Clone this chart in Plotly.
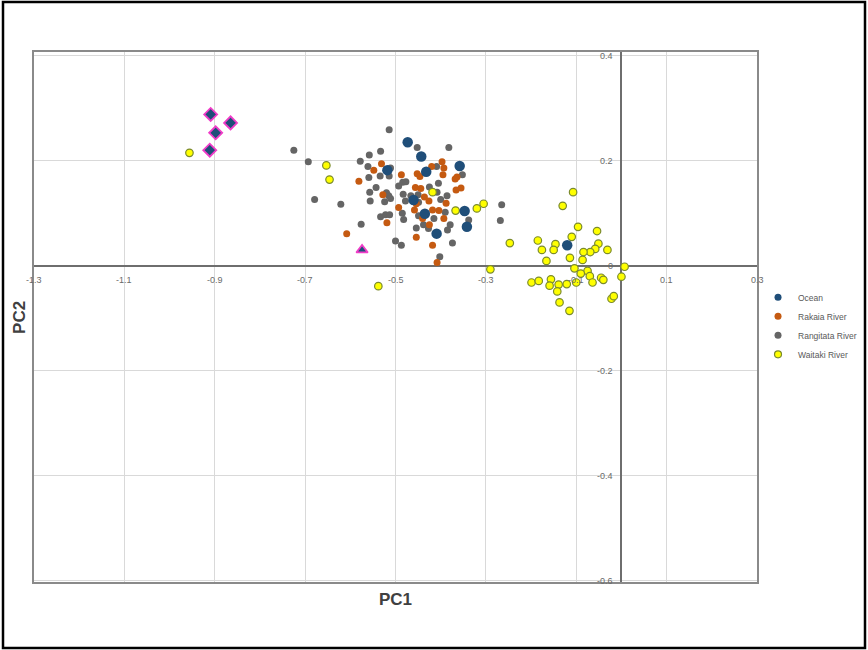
import plotly.graph_objects as go

# ---------------- data ----------------
ocean_x = [-0.473, -0.443, -0.518, -0.432, -0.358, -0.460, -0.435, -0.347, -0.342, -0.409, -0.120]
ocean_y = [0.235, 0.208, 0.182, 0.179, 0.190, 0.125, 0.099, 0.104, 0.074, 0.061, 0.039]

special_diamond_x = [-0.909, -0.865, -0.898, -0.911]
special_diamond_y = [0.288, 0.272, 0.253, 0.220]
special_triangle_x = [-0.574]
special_triangle_y = [0.030]

rakaia_x = [-0.581, -0.608, -0.531, -0.548, -0.487, -0.452, -0.446, -0.528, -0.493, -0.458,
            -0.454, -0.519, -0.454, -0.456, -0.444, -0.397, -0.420, -0.393, -0.395, -0.364,
            -0.368, -0.366, -0.355, -0.436, -0.426, -0.388, -0.418, -0.404, -0.425, -0.393,
            -0.418, -0.408, -0.440]
rakaia_y = [0.161, 0.061, 0.194, 0.182, 0.173, 0.175, 0.170, 0.135, 0.111, 0.106,
            0.118, 0.082, 0.054, 0.149, 0.147, 0.198, 0.189, 0.186, 0.173, 0.169,
            0.165, 0.144, 0.148, 0.131, 0.123, 0.119, 0.106, 0.105, 0.078, 0.090,
            0.039, 0.006, 0.090]

rangitata_x = [-0.725, -0.693, -0.679, -0.621, -0.578, -0.576, -0.514, -0.533, -0.558, -0.561,
               -0.511, -0.514, -0.534, -0.559, -0.452, -0.382, -0.484, -0.477, -0.493, -0.543,
               -0.557, -0.520, -0.515, -0.511, -0.483, -0.466, -0.478, -0.556, -0.524, -0.485,
               -0.533, -0.522, -0.513, -0.482, -0.454, -0.500, -0.487, -0.409, -0.352, -0.405,
               -0.425, -0.450, -0.449, -0.400, -0.386, -0.408, -0.390, -0.449, -0.438, -0.415,
               -0.379, -0.385, -0.427, -0.338, -0.374, -0.402, -0.265, -0.268]
rangitata_y = [0.220, 0.198, 0.126, 0.117, 0.199, 0.079, 0.259, 0.218, 0.211, 0.189,
               0.186, 0.171, 0.171, 0.168, 0.225, 0.225, 0.159, 0.160, 0.152, 0.149,
               0.140, 0.139, 0.133, 0.128, 0.136, 0.133, 0.123, 0.123, 0.122, 0.100,
               0.093, 0.097, 0.097, 0.088, 0.072, 0.047, 0.039, 0.189, 0.173, 0.157,
               0.150, 0.135, 0.121, 0.126, 0.133, 0.140, 0.102, 0.095, 0.078, 0.090,
               0.078, 0.068, 0.071, 0.087, 0.043, 0.017, 0.116, 0.086]

waitaki_x = [-0.956, -0.653, -0.646, -0.418, -0.367, -0.320, -0.305, -0.247, -0.290, -0.538,
             -0.107, -0.130, -0.096, -0.054, -0.110, -0.185, -0.146, -0.150, -0.176, -0.051,
             -0.058, -0.069, -0.084, -0.031, -0.166, -0.114, -0.086, -0.104, -0.075, -0.090,
             -0.100, -0.070, -0.064, -0.045, -0.040, 0.007, 0.000, -0.022, -0.017, -0.199,
             -0.183, -0.156, -0.159, -0.139, -0.121, -0.142, -0.137, -0.115]
waitaki_y = [0.215, 0.191, 0.164, 0.140, 0.105, 0.109, 0.118, 0.043, -0.007, -0.039,
             0.140, 0.114, 0.074, 0.066, 0.055, 0.048, 0.041, 0.030, 0.030, 0.042,
             0.032, 0.026, 0.026, 0.030, 0.009, 0.015, 0.011, -0.005, -0.010, -0.015,
             -0.032, -0.020, -0.032, -0.023, -0.027, -0.002, -0.021, -0.063, -0.058, -0.032,
             -0.029, -0.026, -0.038, -0.036, -0.035, -0.049, -0.070, -0.086]

x_ticks = [-1.3, -1.1, -0.9, -0.7, -0.5, -0.3, -0.1, 0.1, 0.3]
x_tick_labels = ["-1.3", "-1.1", "-0.9", "-0.7", "-0.5", "-0.3", "-0.1", "0.1", "0.3"]
y_ticks = [0.4, 0.2, 0.0, -0.2, -0.4, -0.6]
y_tick_labels = ["0.4", "0.2", "0", "-0.2", "-0.4", "-0.6"]

series_names = ["Ocean", "Rakaia River", "Rangitata River", "Waitaki River"]

# ---------------- styles ----------------
C_OCEAN = "#1F4E79"
C_RAKAIA = "#C55A11"
C_RANG = "#656565"
C_WAIT = "#FFFF00"
C_WAIT_LINE = "#7A8A2E"
C_MAGENTA = "#F03CC8"

fig = go.Figure()

fig.add_trace(go.Scatter(x=rangitata_x, y=rangitata_y, mode="markers", name=series_names[2],
                         legendgroup="rang", showlegend=False,
                         marker=dict(color=C_RANG, size=7, line=dict(width=0))))
fig.add_trace(go.Scatter(x=rakaia_x, y=rakaia_y, mode="markers", name=series_names[1],
                         legendgroup="rak", showlegend=False,
                         marker=dict(color=C_RAKAIA, size=7, line=dict(width=0))))
fig.add_trace(go.Scatter(x=waitaki_x, y=waitaki_y, mode="markers", name=series_names[3],
                         legendgroup="wait", showlegend=False,
                         marker=dict(color=C_WAIT, size=7.5, line=dict(width=1.2, color=C_WAIT_LINE))))
fig.add_trace(go.Scatter(x=ocean_x, y=ocean_y, mode="markers", name=series_names[0],
                         legendgroup="ocean", showlegend=False,
                         marker=dict(color=C_OCEAN, size=10.5, line=dict(width=0))))
fig.add_trace(go.Scatter(x=special_diamond_x, y=special_diamond_y, mode="markers", showlegend=False,
                         marker=dict(symbol="diamond", color=C_OCEAN, size=10,
                                     line=dict(width=1.8, color=C_MAGENTA))))
fig.add_trace(go.Scatter(x=special_triangle_x, y=special_triangle_y, mode="markers", showlegend=False,
                         marker=dict(symbol="triangle-up", color=C_OCEAN, size=10,
                                     line=dict(width=1.8, color=C_MAGENTA))))

# legend entries (small uniform symbols as in the reference)
leg_styles = [
    (series_names[0], "ocean", dict(color=C_OCEAN, size=7, line=dict(width=0))),
    (series_names[1], "rak", dict(color=C_RAKAIA, size=7, line=dict(width=0))),
    (series_names[2], "rang", dict(color=C_RANG, size=7, line=dict(width=0))),
    (series_names[3], "wait", dict(color=C_WAIT, size=7, line=dict(width=1.2, color=C_WAIT_LINE))),
]
for nm, grp, mk in leg_styles:
    fig.add_trace(go.Scatter(x=[None], y=[None], mode="markers", name=nm, legendgroup=grp,
                             showlegend=True, marker=mk))

TICK_FONT = dict(family="Liberation Sans, Arial, sans-serif", size=9, color="#6a6a6a")

annotations = []
for xv, lab in zip(x_ticks, x_tick_labels):
    annotations.append(dict(x=xv, y=0, xref="x", yref="y", text=lab, showarrow=False,
                            xanchor="center", yanchor="middle", yshift=-14, font=TICK_FONT))
for yv, lab in zip(y_ticks, y_tick_labels):
    annotations.append(dict(x=0, y=yv, xref="x", yref="y", text=lab, showarrow=False,
                            xanchor="right", yanchor="middle", xshift=-6, font=TICK_FONT))

TITLE_FONT = dict(family="Liberation Sans, Arial, sans-serif", size=17, color="#404040")
annotations.append(dict(x=0.5, y=-0.012, xref="paper", yref="paper", text="<b>PC1</b>",
                        showarrow=False, xanchor="center", yanchor="top", font=TITLE_FONT))
annotations.append(dict(x=-0.005, y=0.5, xref="paper", yref="paper", text="<b>PC2</b>",
                        showarrow=False, xanchor="right", yanchor="middle", textangle=-90,
                        font=TITLE_FONT))

fig.update_layout(
    width=868, height=650, autosize=False,
    margin=dict(l=34, r=111, t=52, b=68, autoexpand=False),
    paper_bgcolor="white", plot_bgcolor="white",
    showlegend=True,
    legend=dict(x=1.0014, y=0.5645, xanchor="left", yanchor="top",
                font=dict(family="Liberation Sans, Arial, sans-serif", size=8.5, color="#595959"),
                bgcolor="rgba(0,0,0,0)", borderwidth=0, tracegroupgap=0),
    annotations=annotations,
    shapes=[dict(type="rect", xref="paper", yref="paper",
                 x0=(3 - 34) / 723, x1=(865 - 34) / 723,
                 y0=(582 - 648) / 530, y1=(582 - 2) / 530,
                 line=dict(color="black", width=2.5), fillcolor="rgba(0,0,0,0)")],
)

fig.update_xaxes(range=[-1.3, 0.3], tickvals=x_ticks, showticklabels=False, ticks="",
                 showgrid=True, gridcolor="#d9d9d9", gridwidth=1,
                 zeroline=True, zerolinecolor="#6e6e6e", zerolinewidth=2,
                 showline=True, mirror=True, linecolor="#8a8a8a", linewidth=1.5)
fig.update_yaxes(range=[-0.6025, 0.407], tickvals=y_ticks, showticklabels=False, ticks="",
                 showgrid=True, gridcolor="#d9d9d9", gridwidth=1,
                 zeroline=True, zerolinecolor="#6e6e6e", zerolinewidth=2,
                 showline=True, mirror=True, linecolor="#8a8a8a", linewidth=1.5)

fig.write_html(
    "out.html",
    config={"responsive": False, "displayModeBar": False},
    post_script="document.body.style.margin='0';document.body.style.overflow='hidden';"
                "document.documentElement.style.overflow='hidden';",
)
